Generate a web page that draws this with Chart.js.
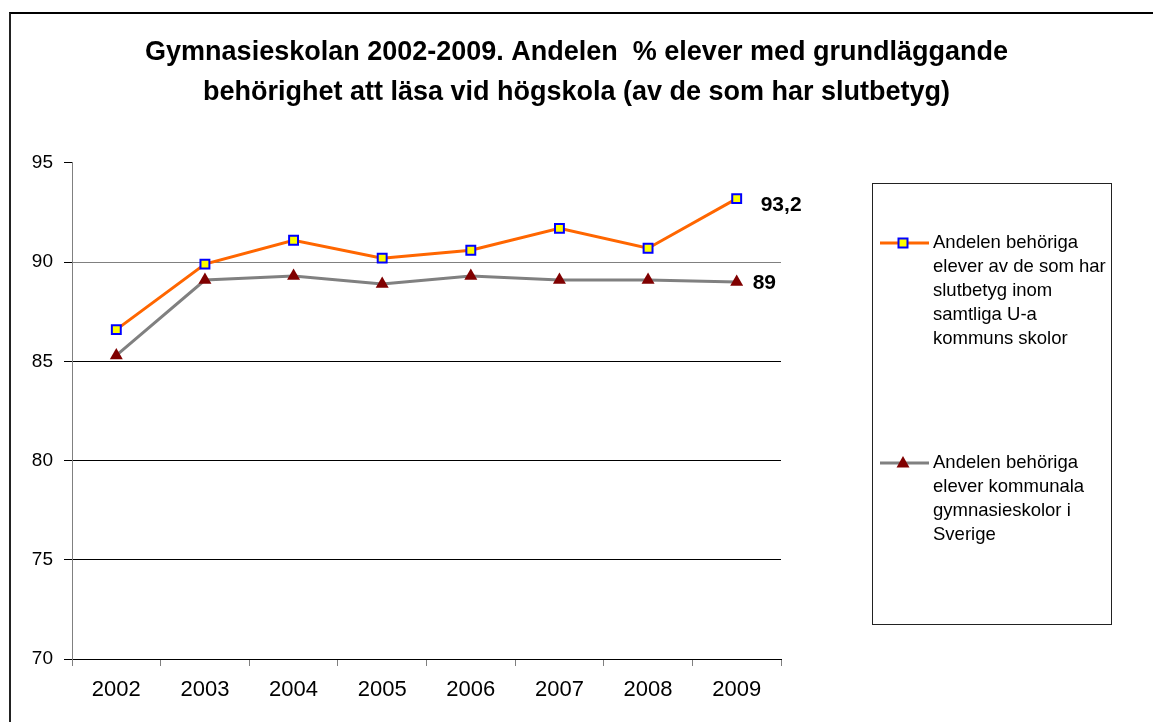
<!DOCTYPE html>
<html>
<head>
<meta charset="utf-8">
<title>Gymnasieskolan 2002-2009</title>
<script src="https://cdn.jsdelivr.net/npm/chart.js@4.4.0/dist/chart.umd.min.js"></script>
<style>
  html, body { margin: 0; padding: 0; background: #fff; }
  #wrap { position: relative; width: 1153px; height: 722px; overflow: hidden; }
  #frame { position: absolute; left: 9px; top: 12px; width: 1300px; height: 900px;
           border-left: 2px solid #222; border-top: 2px solid #000; }
  #chart { position: absolute; left: 0; top: 0; }
</style>
</head>
<body>
<div id="wrap">
  <div id="frame"></div>
  <canvas id="chart" width="1153" height="722"></canvas>
</div>
<script>
// chart data
const years = ['2002', '2003', '2004', '2005', '2006', '2007', '2008', '2009'];
const uaSkolor = [86.6, 89.9, 91.1, 90.2, 90.6, 91.7, 90.7, 93.2];
const sverige = [85.3, 89.1, 89.3, 88.9, 89.3, 89.1, 89.1, 89.0];
const yTicks = [70, 75, 80, 85, 90, 95];
const endLabels = ['93,2', '89'];

const titleLines = [
  'Gymnasieskolan 2002-2009. Andelen  % elever med grundläggande',
  'behörighet att läsa vid högskola (av de som har slutbetyg)'
];
const legendUa = ['Andelen behöriga', 'elever av de som har', 'slutbetyg inom', 'samtliga U-a', 'kommuns skolor'];
const legendSverige = ['Andelen behöriga', 'elever kommunala', 'gymnasieskolor i', 'Sverige'];

const FONT = "Arial, 'Liberation Sans', sans-serif";

// draw a square or triangle marker like the ones in the chart
function drawMarker(ctx, type, x, y) {
  ctx.save();
  if (type === 'rect') {
    ctx.fillStyle = '#ffff00';
    ctx.strokeStyle = '#0000ff';
    ctx.lineWidth = 2;
    ctx.beginPath();
    ctx.rect(x - 4.5, y - 4.5, 9, 9);
    ctx.fill();
    ctx.stroke();
  } else {
    ctx.fillStyle = '#800000';
    ctx.beginPath();
    ctx.moveTo(x, y - 7);
    ctx.lineTo(x + 6.5, y + 4.5);
    ctx.lineTo(x - 6.5, y + 4.5);
    ctx.closePath();
    ctx.fill();
  }
  ctx.restore();
}

// value labels at the last point + the boxed legend on the right
const extrasPlugin = {
  id: 'extras',
  afterDatasetsDraw(chart) {
    const ctx = chart.ctx;
    ctx.save();
    ctx.font = 'bold 21px ' + FONT;
    ctx.fillStyle = '#000';
    ctx.textBaseline = 'middle';
    ctx.textAlign = 'left';
    const offsets = [24, 16];
    chart.data.datasets.forEach((ds, i) => {
      const pts = chart.getDatasetMeta(i).data;
      const last = pts[pts.length - 1];
      ctx.fillText(endLabels[i], last.x + offsets[i], last.y + (i === 0 ? 7 : 1));
    });
    ctx.restore();
  },
  afterDraw(chart) {
    const ctx = chart.ctx;
    ctx.save();
    // legend box
    ctx.strokeStyle = '#222';
    ctx.lineWidth = 1;
    ctx.strokeRect(872.5, 183.5, 239, 441);

    const entries = [
      { lines: legendUa, color: '#ff6600', marker: 'rect', y: 243 },
      { lines: legendSverige, color: '#808080', marker: 'triangle', y: 463 }
    ];
    ctx.font = '18.5px ' + FONT;
    ctx.fillStyle = '#000';
    ctx.textBaseline = 'middle';
    ctx.textAlign = 'left';
    entries.forEach(e => {
      ctx.strokeStyle = e.color;
      ctx.lineWidth = 3;
      ctx.beginPath();
      ctx.moveTo(880, e.y);
      ctx.lineTo(929, e.y);
      ctx.stroke();
      drawMarker(ctx, e.marker, 903, e.y);
      e.lines.forEach((t, k) => {
        ctx.fillText(t, 933, e.y + k * 24);
      });
    });
    ctx.restore();
  }
};

const config = {
  type: 'line',
  data: {
    labels: years,
    datasets: [
      {
        label: legendUa.join(' '),
        data: uaSkolor,
        borderColor: '#ff6600',
        borderWidth: 3,
        tension: 0,
        pointStyle: 'rect',
        pointRadius: 6.3,
        pointBackgroundColor: '#ffff00',
        pointBorderColor: '#0000ff',
        pointBorderWidth: 2
      },
      {
        label: legendSverige.join(' '),
        data: sverige,
        borderColor: '#808080',
        borderWidth: 3,
        tension: 0,
        pointStyle: 'triangle',
        pointRadius: 7.5,
        pointBackgroundColor: '#800000',
        pointBorderColor: '#800000',
        pointBorderWidth: 0
      }
    ]
  },
  options: {
    responsive: false,
    animation: false,
    layout: { padding: 0 },
    plugins: {
      legend: { display: false },
      tooltip: { enabled: false },
      title: {
        display: true,
        text: titleLines,
        color: '#000',
        font: { family: FONT, size: 27, weight: 'bold', lineHeight: 1.48 },
        padding: { top: 33, bottom: 50 }
      }
    },
    scales: {
      x: {
        offset: true,
        grid: {
          offset: true,
          drawOnChartArea: false,
          tickLength: 7,
          tickColor: '#808080'
        },
        border: { color: '#000', width: 1 },
        ticks: { color: '#000', padding: 11, font: { family: FONT, size: 22 }, maxRotation: 0 },
        afterFit(scale) { scale.height = 63; }
      },
      y: {
        min: 70,
        max: 95,
        afterBuildTicks(scale) { scale.ticks = yTicks.map(v => ({ value: v })); },
        grid: {
          color: c => (c.tick.value === 95 ? 'rgba(0,0,0,0)' : (c.tick.value === 90 ? '#808080' : '#000')),
          tickColor: '#000',
          tickLength: 8
        },
        border: { color: '#808080', width: 1 },
        ticks: { color: '#000', padding: 11, font: { family: FONT, size: 19 } },
        afterFit(scale) { scale.width = 72; }
      },
      // empty axis on the right that only reserves room for the legend box
      yRight: {
        position: 'right',
        min: 70,
        max: 95,
        grid: { display: false },
        border: { display: false },
        ticks: { display: false },
        afterFit(scale) { scale.width = 372; }
      }
    }
  },
  plugins: [extrasPlugin]
};

const ctx = document.getElementById('chart').getContext('2d');
const lineChart = new Chart(ctx, config);
</script>
</body>
</html>
